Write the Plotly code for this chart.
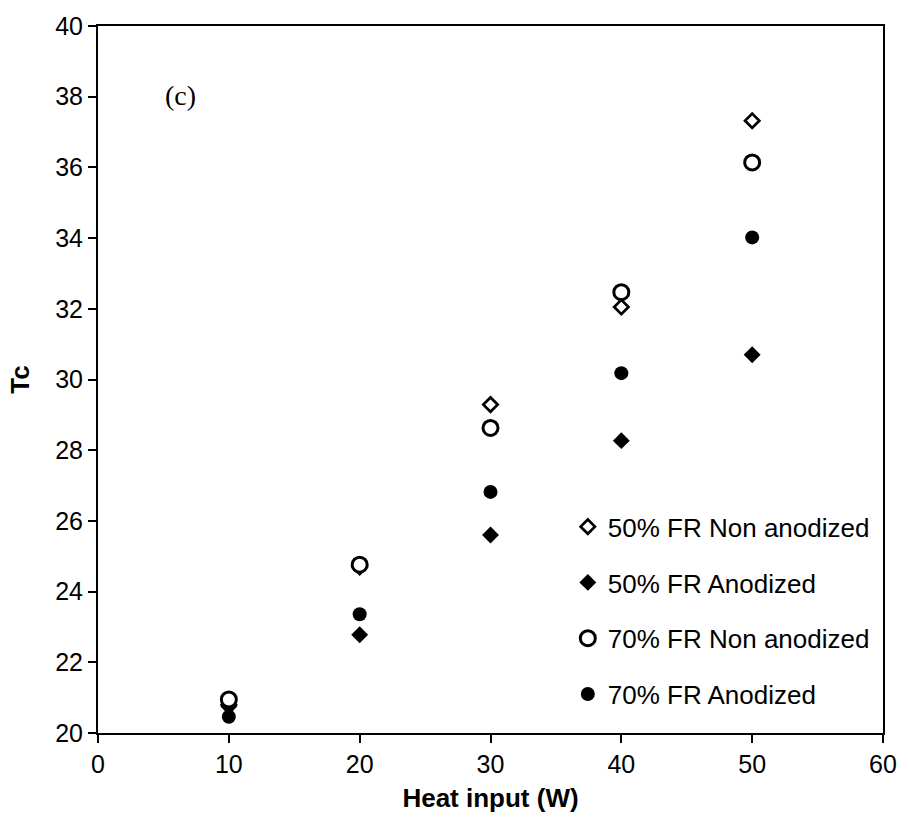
import plotly.graph_objects as go

heat_input = [10, 20, 30, 40, 50]
fr50_non_anodized = [20.80, 24.70, 29.29, 32.05, 37.32]
fr50_anodized = [20.75, 22.78, 25.60, 28.27, 30.70]
fr70_non_anodized = [20.95, 24.76, 28.63, 32.47, 36.14]
fr70_anodized = [20.46, 23.36, 26.82, 30.18, 34.02]

series_names = ["50% FR Non anodized", "50% FR Anodized", "70% FR Non anodized", "70% FR Anodized"]

FONT = "Liberation Sans, Arial, sans-serif"

fig = go.Figure()
fig.add_trace(go.Scatter(x=heat_input, y=fr50_non_anodized, mode="markers", name=series_names[0],
                         legendgroup="a",
                         marker=dict(symbol="diamond", size=11, color="white",
                                     line=dict(color="black", width=2.7))))
fig.add_trace(go.Scatter(x=heat_input, y=fr50_anodized, mode="markers", name=series_names[1],
                         legendgroup="b",
                         marker=dict(symbol="diamond", size=13, color="black",
                                     line=dict(width=0))))
fig.add_trace(go.Scatter(x=heat_input, y=fr70_non_anodized, mode="markers", name=series_names[2],
                         legendgroup="c",
                         marker=dict(symbol="circle", size=15, color="white",
                                     line=dict(color="black", width=3))))
fig.add_trace(go.Scatter(x=heat_input, y=fr70_anodized, mode="markers", name=series_names[3],
                         legendgroup="d",
                         marker=dict(symbol="circle", size=14, color="black",
                                     line=dict(width=0))))

axis_common = dict(
    showgrid=False, zeroline=False, showline=True, linecolor="black", linewidth=2,
    mirror=True, ticks="outside", ticklen=8, tickwidth=2, tickcolor="black",
    tickfont=dict(family=FONT, size=25, color="black"),
)

fig.update_layout(
    width=909, height=823,
    margin=dict(l=98, r=19, t=20, b=90, pad=0),
    paper_bgcolor="white", plot_bgcolor="white",
    font=dict(family=FONT, size=25, color="black"),
    xaxis=dict(range=[0, 60], dtick=10, tick0=0,
               title=dict(text="<b>Heat input (W)</b>", font=dict(family=FONT, size=26, color="black"),
                          standoff=12),
               **axis_common),
    yaxis=dict(range=[20, 40], dtick=2, tick0=20,
               title=dict(text="<b>Tc</b>", font=dict(family=FONT, size=26, color="black"),
                          standoff=18),
               **axis_common),
    legend=dict(x=0.5985, y=0.325, xanchor="left", yanchor="top",
                bgcolor="rgba(0,0,0,0)", borderwidth=0,
                font=dict(family=FONT, size=26, color="black"),
                tracegroupgap=19, traceorder="grouped", itemwidth=30),
    showlegend=True,
    annotations=[dict(text="(c)", x=0.1057, y=0.901, xref="paper", yref="paper",
                      xanchor="center", yanchor="middle", showarrow=False,
                      font=dict(family="Liberation Serif, Times New Roman, serif", size=28, color="black"))],
)

fig.write_html("out.html")
